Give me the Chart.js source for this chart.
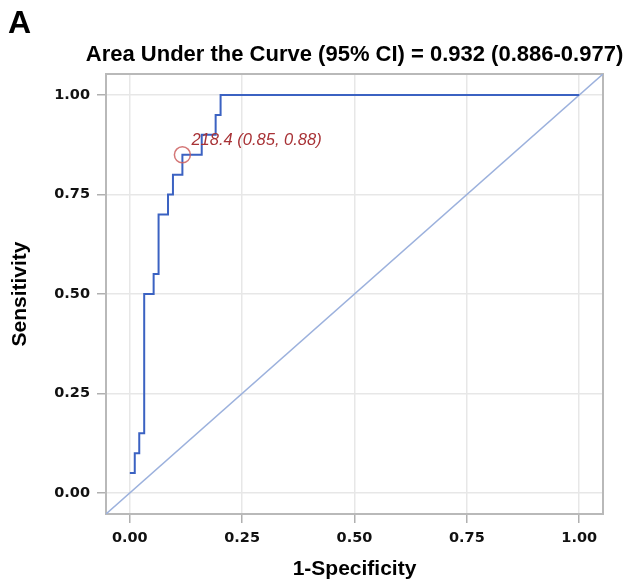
<!DOCTYPE html>
<html>
<head>
<meta charset="utf-8">
<script src="https://cdn.jsdelivr.net/npm/chart.js@4/dist/chart.umd.min.js"></script>
<style>
  html, body { margin: 0; padding: 0; background: #fff; }
  canvas { display: block; }
</style>
</head>
<body>
<canvas id="roc" width="626" height="583"></canvas>
<script>
// --- DATA --- //
// 1-especificidade e sensibilidade em cada degrau da curva
const fpr = [0.000, 0.011, 0.021, 0.032, 0.053, 0.064, 0.085, 0.096, 0.117, 0.160, 0.191, 0.202, 1.000]
const tpr = [0.05, 0.10, 0.15, 0.50, 0.55, 0.70, 0.75, 0.80, 0.85, 0.90, 0.95, 1.00, 1.00]

// ponto de corte destacado
const cutoffX = [0.117]
const cutoffY = [0.85]
const cutoffLabel = '218.4 (0.85, 0.88)'

// valores e rotulos dos eixos
const tickValues = [0, 0.25, 0.5, 0.75, 1]
const tickLabels = ['0.00', '0.25', '0.50', '0.75', '1.00']
const axisMin = -0.053
const axisMax = 1.053

// linha de referencia (diagonal de canto a canto)
const diagX = [axisMin, axisMax]
const diagY = [axisMin, axisMax]

const titleText = 'Area Under the Curve (95% CI) = 0.932 (0.886-0.977)'
const panelLetter = 'A'

const toPoints = (xs, ys) => xs.map((x, i) => ({ x: x, y: ys[i] }))

// --- PLUGINS --- //
// moldura cinza em volta da area do grafico
const frame = {
  id: 'frame',
  beforeDatasetsDraw: chart => {
    const { ctx, chartArea: a } = chart
    ctx.save()
    ctx.strokeStyle = '#b9b9b9'
    ctx.lineWidth = 2
    ctx.strokeRect(a.left, a.top, a.right - a.left, a.bottom - a.top)
    ctx.restore()
  }
}

// letra do painel, titulo e rotulo do ponto de corte
const texts = {
  id: 'texts',
  afterDatasetsDraw: chart => {
    const { ctx, chartArea: a } = chart
    ctx.save()
    ctx.fillStyle = '#000'
    ctx.font = "bold 32px 'Liberation Sans', Arial, sans-serif"
    ctx.textBaseline = 'alphabetic'
    ctx.textAlign = 'left'
    ctx.fillText(panelLetter, 8, 33)

    // titulo centrado sobre a area do grafico (sem compressao)
    ctx.font = "bold 22px 'Liberation Sans', Arial, sans-serif"
    ctx.textAlign = 'center'
    ctx.textBaseline = 'middle'
    ctx.fillText(titleText, (a.left + a.right) / 2, 55)

    const pt = chart.getDatasetMeta(2).data[0]
    ctx.fillStyle = '#a83236'
    ctx.font = "italic 16.5px 'Liberation Sans', Arial, sans-serif"
    ctx.textAlign = 'left'
    ctx.textBaseline = 'alphabetic'
    ctx.fillText(cutoffLabel, pt.x + 9, pt.y - 10)
    ctx.restore()
  }
}

const tickFont = { family: "'DejaVu Sans', sans-serif", size: 14.5, weight: 'bold' }
const titleFont = { family: "'Liberation Sans', Arial, sans-serif", size: 21, weight: 'bold' }

const axis = (titleLabel, padding) => ({
  type: 'linear',
  min: axisMin,
  max: axisMax,
  afterBuildTicks: scale => {
    scale.ticks = tickValues.map(v => ({ value: v }))
  },
  ticks: {
    callback: value => tickLabels[tickValues.indexOf(value)],
    font: tickFont,
    color: '#111',
    padding: 7
  },
  grid: {
    color: '#e7e7e7',
    lineWidth: 1.5,
    tickColor: '#b0b0b0',
    tickWidth: 1.5,
    tickLength: 9
  },
  border: { display: false },
  title: {
    display: true,
    text: titleLabel,
    font: titleFont,
    color: '#000',
    padding: padding
  }
})

const xAxis = axis('1-Specificity', { top: 10, bottom: 1 })
xAxis.afterFit = scale => { scale.height = 69 }
const yAxis = axis('Sensitivity', { top: 8, bottom: 20 })
yAxis.afterFit = scale => { scale.width = 106 }

new Chart(document.getElementById('roc'), {
  type: 'scatter',
  data: {
    datasets: [
      {
        label: 'ROC',
        data: toPoints(fpr, tpr),
        showLine: true,
        stepped: 'before',
        borderColor: '#3b62c2',
        borderWidth: 2,
        pointRadius: 0,
        order: 1
      },
      {
        label: 'Reference',
        data: toPoints(diagX, diagY),
        showLine: true,
        borderColor: '#9cb1dd',
        borderWidth: 1.5,
        pointRadius: 0,
        order: 3
      },
      {
        label: 'Cutoff',
        data: toPoints(cutoffX, cutoffY),
        pointRadius: 8,
        pointBorderWidth: 1.5,
        pointBorderColor: 'rgba(205, 95, 95, 0.85)',
        pointBackgroundColor: 'rgba(0, 0, 0, 0)',
        order: 0
      }
    ]
  },
  options: {
    responsive: false,
    animation: false,
    layout: { padding: { left: 0, right: 23, top: 74, bottom: 0 } },
    scales: { x: xAxis, y: yAxis },
    plugins: {
      legend: { display: false },
      tooltip: { enabled: false },
      title: { display: false }
    }
  },
  plugins: [frame, texts]
})
</script>
</body>
</html>
